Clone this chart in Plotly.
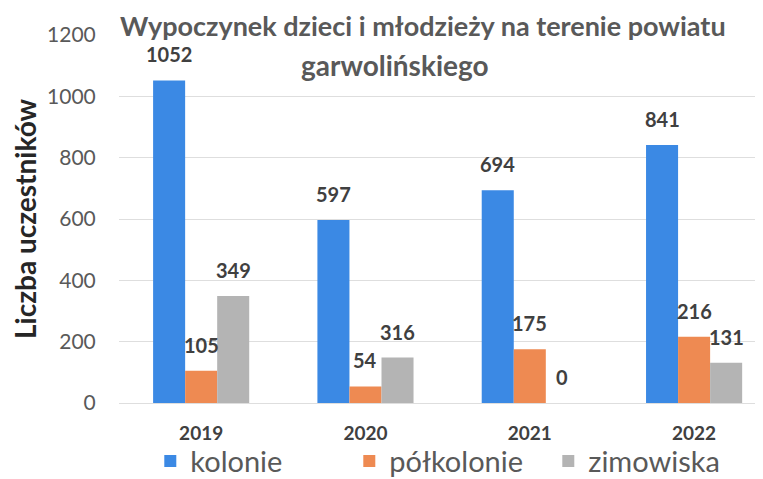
# Wypoczynek dzieci i młodzieży - wykres słupkowy
import plotly.graph_objects as go

# Dane
lata = ["2019", "2020", "2021", "2022"]
kolonie = [1052, 597, 694, 841]
polkolonie = [105, 54, 175, 216]
zimowiska = [349, 148, 0, 131]
# etykiety danych (na wykresie zródłowym słupek 2020 ma podpis 316)
etykiety_kolonie = ["1052", "597", "694", "841"]
etykiety_polkolonie = ["105", "54", "175", "216"]
etykiety_zimowiska = ["349", "316", "0", "131"]
y_ticki = [0, 200, 400, 600, 800, 1000, 1200]

serie = [
    ("kolonie", kolonie, etykiety_kolonie, "#3b89e4"),
    ("półkolonie", polkolonie, etykiety_polkolonie, "#ee8a52"),
    ("zimowiska", zimowiska, etykiety_zimowiska, "#b4b4b4"),
]

FONT = "Lato"
bargap = 0.415
szer = (1 - bargap) / 3

fig = go.Figure()
adnotacje = []
for i, (nazwa, wartosci, etykiety, kolor) in enumerate(serie):
    fig.add_trace(go.Bar(name=nazwa, x=lata, y=wartosci, marker_color=kolor, marker_line_width=0))
    # podpisy danych nad słupkami
    for j, (w, et) in enumerate(zip(wartosci, etykiety)):
        adnotacje.append(dict(
            x=j + (i - 1) * szer, y=w, xref="x", yref="y", text=et, showarrow=False,
            yshift=26, yanchor="middle",
            font=dict(family=FONT, size=20, color="#404040", weight="bold"),
        ))

# tytuł w dwóch liniach
adnotacje.append(dict(x=0.466, y=1.027, xref="paper", yref="paper", showarrow=False,
                      text="Wypoczynek dzieci i młodzieży na terenie powiatu", yanchor="middle",
                      font=dict(family=FONT, size=27, color="#595959", weight="bold")))
adnotacje.append(dict(x=0.423, y=0.918, xref="paper", yref="paper", showarrow=False,
                      text="garwolińskiego", yanchor="middle",
                      font=dict(family=FONT, size=28, color="#595959", weight="bold")))

fig.update_layout(
    width=763, height=479,
    margin=dict(l=111, r=0, t=27, b=84, autoexpand=False),
    paper_bgcolor="white", plot_bgcolor="white",
    barmode="group", bargap=bargap, bargroupgap=0,
    annotations=adnotacje,
    legend=dict(orientation="h", x=0.048, xanchor="left", y=-0.158, yanchor="middle",
                bgcolor="rgba(0,0,0,0)", itemwidth=30, entrywidth=154,
                font=dict(family=FONT, size=29, color="#595959")),
    xaxis=dict(type="category", range=[-0.5, 3.468], showgrid=False, showline=False,
               ticks="outside", ticklen=13, tickcolor="rgba(0,0,0,0)",
               tickfont=dict(family=FONT, size=19, color="#404040", weight="bold")),
    yaxis=dict(range=[0, 1200], tickvals=y_ticki, showgrid=True, gridcolor="#dedede", gridwidth=1,
               zeroline=True, zerolinecolor="#dedede", zerolinewidth=1,
               ticks="outside", ticklen=18, tickcolor="rgba(0,0,0,0)",
               tickfont=dict(family=FONT, size=21, color="#595959"),
               title=dict(text="Liczba uczestników", standoff=10,
                          font=dict(family=FONT, size=28, color="#262626", weight="bold"))),
)

fig.write_html("out.html")
